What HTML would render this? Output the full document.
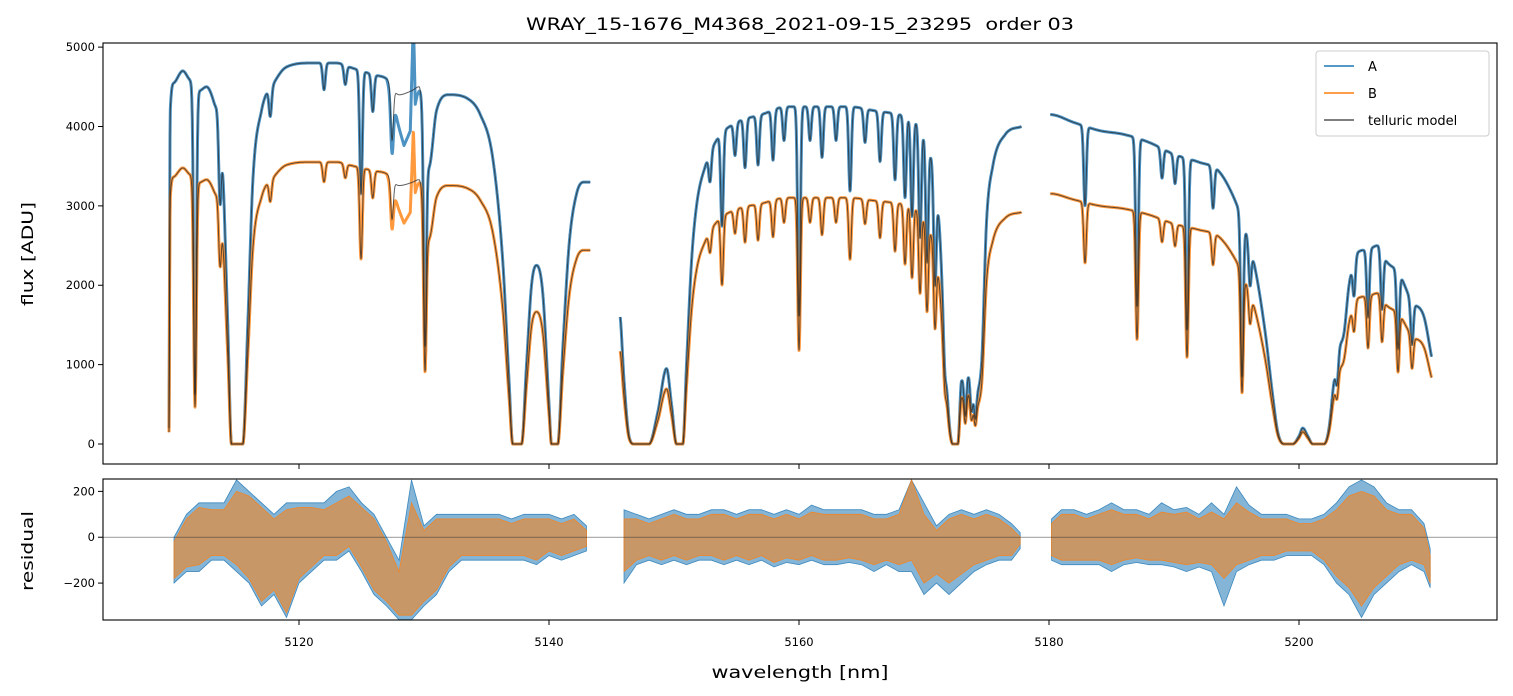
<!DOCTYPE html>
<html><head><meta charset="utf-8">
<style>
body{margin:0;background:#fff;}
svg{display:block;font-family:"DejaVu Sans","Liberation Sans",sans-serif;}
</style></head>
<body>
<svg id="chart" width="1513" height="696" viewBox="0 0 1513 696">
<text x="800" y="30" text-anchor="middle" font-size="17" textLength="548" lengthAdjust="spacingAndGlyphs" style="white-space:pre">WRAY_15-1676_M4368_2021-09-15_23295  order 03</text>
<g id="gtop"></g>
<g id="gbot"></g>
<text x="33" y="254" transform="rotate(-90 33 254)" text-anchor="middle" font-size="16" textLength="104" lengthAdjust="spacingAndGlyphs">flux [ADU]</text>
<text x="33" y="551" transform="rotate(-90 33 551)" text-anchor="middle" font-size="16" textLength="80" lengthAdjust="spacingAndGlyphs">residual</text>
<text x="800" y="678" text-anchor="middle" font-size="17" textLength="177" lengthAdjust="spacingAndGlyphs">wavelength [nm]</text>
<g>
<rect x="1316" y="51" width="173" height="85" rx="3" fill="#fff" fill-opacity="0.85" stroke="#ccc"/>
<line x1="1324" y1="66" x2="1354" y2="66" stroke="#1f77b4" stroke-width="1.5"/>
<text x="1368" y="71" font-size="13">A</text>
<line x1="1324" y1="93" x2="1354" y2="93" stroke="#ff7f0e" stroke-width="1.5"/>
<text x="1368" y="98" font-size="13">B</text>
<line x1="1324" y1="120" x2="1354" y2="120" stroke="#555" stroke-width="1.5"/>
<text x="1368" y="125" font-size="13">telluric model</text>
</g>
</svg>
<script>
// ---- data ----
const segments = [[5109.6,5143.3],[5145.7,5177.8],[5180.1,5210.6]];
const bRatio = [0.74,0.73,0.76];
const contWl = [5109.6,5109.7,5110.0,5110.7,5111.2,5112.0,5112.6,5113.2,5113.8,5114.3,5114.6,5115.5,5115.9,5116.3,5117.0,5118,5119,5121,5123,5124,5126,5127,5128,5129,5129.6,5130.4,5131,5132,5133.5,5134.5,5135.5,5136.3,5136.8,5137.1,5137.8,5138.2,5138.6,5139.0,5139.5,5140.0,5140.2,5140.7,5141.1,5141.6,5142.2,5142.8,5143.3,
5145.7,5146.0,5146.4,5146.8,5148,5148.7,5149.4,5149.8,5150.2,5150.7,5151.0,5151.4,5151.8,5152.5,5153.5,5155,5157,5159,5162,5164,5166,5168,5169,5170.0,5170.7,5171.2,5171.6,5172.0,5172.3,5172.7,5173.0,5173.5,5174.2,5174.6,5175,5175.5,5176.5,5177.8,
5180.1,5182,5184,5186,5188,5190,5192,5193.5,5194.5,5195.5,5196.5,5197.3,5197.9,5198.3,5198.8,5199.5,5200.0,5200.3,5200.7,5201.1,5202.0,5202.4,5202.8,5203.2,5203.6,5204,5204.6,5205.5,5206.3,5207,5208,5209,5210,5210.6];
const contA = [200,4200,4550,4700,4600,4450,4500,4300,3800,1500,0,0,1500,3300,4200,4550,4750,4800,4800,4750,4650,4600,4400,4450,4500,3500,4200,4400,4350,4150,3600,2300,800,0,0,1000,2000,2250,1900,500,0,0,1200,2500,3150,3300,3300,
1600,800,100,0,0,400,950,500,0,0,1000,2300,3000,3500,3850,4050,4150,4250,4250,4250,4200,4150,4100,3900,3500,2800,1500,300,0,0,800,900,700,1000,2800,3500,3900,4000,
4150,4050,3950,3900,3800,3650,3550,3450,3200,2800,2200,1400,600,150,0,0,100,200,100,0,0,200,800,1200,1400,2000,2400,2450,2500,2300,2150,1800,1600,1100];
const lineWl = [5111.68,5113.68,5117.7,5122.0,5123.7,5124.96,5125.9,5127.44,5130.08,
5152.88,5153.84,5154.88,5155.68,5156.72,5157.92,5158.8,5160.0,5160.88,5161.84,5162.96,5164.08,5165.28,5166.48,5167.68,5168.48,5169.04,5169.68,5170.24,5170.88,5171.68,5173.3,5173.8,5174.1,
5182.88,5187.04,5189.04,5190.08,5191.04,5193.12,5195.44,5196.08,5203.04,5204.4,5205.52,5206.64,5207.92,5209.04];
const lineDepth = [0.86,0.25,0.08,0.07,0.05,0.33,0.1,0.15,0.68,
0.1,0.3,0.1,0.15,0.15,0.15,0.1,0.62,0.1,0.15,0.1,0.25,0.1,0.15,0.2,0.25,0.3,0.35,0.4,0.4,0.3,0.6,0.5,0.55,
0.25,0.55,0.1,0.1,0.6,0.15,0.7,0.2,0.3,0.2,0.35,0.3,0.45,0.3];
const lineWidth = 0.15;
// observed-minus-model deviation (A units)
const devWl = [5127.0,5127.8,5128.4,5128.9,5129.15,5129.3,5129.45,5129.8];
const devA  = [0,-300,-650,-500,900,-200,-100,0];
const resWl = [5110,5111,5112,5113,5114,5115,5116,5117,5118,5119,5120,5121,5122,5123,5124,5125,5126,5127,5128,5129,5130,5131,5132,5133,5134,5135,5136,5137,5138,5139,5140,5141,5142,5143,
5146,5147,5148,5149,5150,5151,5152,5153,5154,5155,5156,5157,5158,5159,5160,5161,5162,5163,5164,5165,5166,5167,5168,5169,5170,5171,5172,5173,5174,5175,5176,5177,5177.7,
5180.2,5181,5182,5183,5184,5185,5186,5187,5188,5189,5190,5191,5192,5193,5194,5195,5196,5197,5198,5199,5200,5201,5202,5203,5204,5205,5206,5207,5208,5209,5210,5210.5];
const resAhi = [0,100,150,150,150,250,200,150,100,150,150,150,150,200,220,150,100,0,-100,250,50,100,100,100,100,100,100,80,100,100,100,80,100,50,
120,100,80,100,120,100,100,120,120,100,120,120,100,120,100,140,120,120,120,120,100,100,120,250,150,50,100,120,100,120,100,60,20,
80,120,120,100,120,150,120,120,100,150,120,130,100,150,100,220,140,100,100,100,80,80,100,150,220,250,220,150,120,120,60,-50];
const resAlo = [-200,-150,-150,-100,-100,-150,-200,-300,-250,-350,-200,-150,-100,-100,-60,-150,-250,-300,-360,-360,-300,-250,-150,-100,-100,-100,-100,-100,-100,-120,-80,-100,-80,-60,
-200,-120,-100,-120,-100,-120,-100,-100,-120,-100,-120,-100,-130,-110,-120,-100,-120,-120,-110,-120,-150,-120,-150,-150,-250,-200,-250,-200,-150,-120,-100,-100,-50,
-100,-120,-120,-120,-120,-150,-120,-110,-120,-120,-130,-150,-130,-150,-300,-150,-120,-100,-100,-80,-80,-80,-120,-200,-250,-350,-250,-200,-150,-120,-150,-220];
const resBhi = [-20,80,130,120,120,200,180,130,80,120,130,130,120,150,180,130,80,-20,-150,150,30,80,80,80,80,80,80,60,80,80,80,60,80,30,
80,80,60,80,100,80,80,100,100,80,100,100,80,100,80,110,100,100,100,100,80,80,100,250,100,30,80,100,80,100,80,40,0,
60,100,100,80,100,120,100,100,80,110,100,110,80,110,80,150,110,80,80,80,60,60,80,120,180,200,180,120,100,100,40,-80];
const resBlo = [-180,-130,-120,-80,-80,-120,-180,-280,-230,-330,-180,-130,-80,-80,-40,-130,-230,-280,-340,-340,-280,-230,-130,-80,-80,-80,-80,-80,-80,-100,-60,-80,-60,-40,
-150,-100,-80,-100,-80,-100,-80,-80,-100,-80,-100,-80,-110,-90,-100,-80,-100,-100,-90,-100,-120,-100,-120,-100,-200,-160,-200,-160,-120,-100,-80,-80,-30,
-80,-100,-100,-100,-100,-120,-100,-90,-100,-100,-110,-120,-110,-120,-180,-120,-100,-80,-80,-60,-60,-60,-100,-170,-220,-300,-220,-170,-120,-100,-120,-200];
const xTicks = [5120,5140,5160,5180,5200];
const yTicksTop = [0,1000,2000,3000,4000,5000];
const yTicksBot = [-200,0,200];

// ---- axes ----
const X0=103,X1=1497, W0=5104.32, W1=5215.84;
const TY0=43,TY1=464, F0=5052, F1=-252;
const BY0=479,BY1=620, R0=254, R1=-361;
const xs = w => X0+(w-W0)/(W1-W0)*(X1-X0);
const yt = v => TY0+(v-F0)/(F1-F0)*(TY1-TY0);
const yb = v => BY0+(v-R0)/(R1-R0)*(BY1-BY0);
const NS="http://www.w3.org/2000/svg";
function mk(parent,tag,attrs){const e=document.createElementNS(NS,tag);for(const k in attrs)e.setAttribute(k,attrs[k]);parent.appendChild(e);return e;}
function interp(xa,ya,x){if(x<=xa[0])return ya[0];if(x>=xa[xa.length-1])return ya[ya.length-1];let i=0;while(i<xa.length-2&&xa[i+1]<x)i++;const t=(x-xa[i])/(xa[i+1]-xa[i]);return ya[i]+t*(ya[i+1]-ya[i]);}
const contM=(function(){const n=contWl.length,d=[],m=[];for(let i=0;i<n-1;i++)d.push((contA[i+1]-contA[i])/(contWl[i+1]-contWl[i]));
  m[0]=d[0];m[n-1]=d[n-2];for(let i=1;i<n-1;i++){m[i]=(d[i-1]*d[i]<=0)?0:(d[i-1]+d[i])/2;}
  for(let i=0;i<n-1;i++){if(d[i]===0){m[i]=0;m[i+1]=0;continue;}const a=m[i]/d[i],b=m[i+1]/d[i],s=a*a+b*b;if(s>9){const t=3/Math.sqrt(s);m[i]=t*a*d[i];m[i+1]=t*b*d[i];}}return m;})();
function cont(w){let i=0;while(i<contWl.length-2&&contWl[i+1]<w)i++;const h=contWl[i+1]-contWl[i];let t=(w-contWl[i])/h;t=Math.max(0,Math.min(1,t));
  const t2=t*t,t3=t2*t;return (2*t3-3*t2+1)*contA[i]+(t3-2*t2+t)*h*contM[i]+(-2*t3+3*t2)*contA[i+1]+(t3-t2)*h*contM[i+1];}
function model(w){let c=Math.max(0,cont(w));for(let i=0;i<lineWl.length;i++){const d=(w-lineWl[i])/lineWidth;if(Math.abs(d)<5)c*=1-lineDepth[i]*Math.exp(-d*d);}return c;}

const gTop=document.getElementById('gtop'), gBot=document.getElementById('gbot');
const defs=mk(gTop,'defs',{});
const cpT=mk(defs,'clipPath',{id:'ct'}); mk(cpT,'rect',{x:103,y:43,width:1394,height:421});
const cpB=mk(defs,'clipPath',{id:'cb'}); mk(cpB,'rect',{x:103,y:479,width:1394,height:141});
const gt=mk(gTop,'g',{'clip-path':'url(#ct)'});
const gb=mk(gBot,'g',{'clip-path':'url(#cb)'});

const series=[{name:'A',col:'#1f77b4'},{name:'B',col:'#ff7f0e'}];
const modelPaths=[];
series.forEach(se=>{
  segments.forEach((sg,si)=>{
    let d='',dm='';
    const r = se.name==='A'?1:bRatio[si];
    for(let w=sg[0];w<=sg[1]+1e-9;w+=0.02){
      const m=model(w)*r;
      const o=m+interp(devWl,devA,w)*r;
      d+=(d?'L':'M')+xs(w).toFixed(1)+','+yt(o).toFixed(1);
      dm+=(dm?'L':'M')+xs(w).toFixed(1)+','+yt(m).toFixed(1);
    }
    const p=mk(gt,'path',{d:d,fill:'none',stroke:se.col,'stroke-width':3,'stroke-opacity':0.8,'stroke-linejoin':'round'});
    
    
    modelPaths.push(dm);
  });
});
modelPaths.forEach(d=>{
  const p=mk(gt,'path',{d:d,fill:'none',stroke:'#2a2a2a','stroke-width':1,'stroke-opacity':0.75});
  
  
});

[[resAhi,resAlo,'#1f77b4','a',0.55],[resBhi,resBlo,'#ff7f0e','b',0.55]].forEach(([hi,lo,col,nm,op])=>{
  segments.forEach((sg,si)=>{
    const idx=[];resWl.forEach((w,i)=>{if(w>=sg[0]-0.5&&w<=sg[1]+0.5)idx.push(i);});
    let d='';
    idx.forEach(i=>{d+=(d?'L':'M')+xs(Math.max(sg[0],Math.min(sg[1],resWl[i]))).toFixed(1)+','+yb(hi[i]).toFixed(1);});
    idx.slice().reverse().forEach(i=>{d+='L'+xs(Math.max(sg[0],Math.min(sg[1],resWl[i]))).toFixed(1)+','+yb(lo[i]).toFixed(1);});
    const p=mk(gb,'path',{d:d+'Z',fill:col,'fill-opacity':op,stroke:col,'stroke-width':0.8,'stroke-opacity':0.8});
    
    
  });
});
mk(gb,'line',{x1:X0,x2:X1,y1:yb(0),y2:yb(0),stroke:'#333','stroke-width':0.6,'stroke-opacity':0.8});

[[TY0,TY1,gTop],[BY0,BY1,gBot]].forEach(([a,b,g])=>{
  mk(g,'rect',{x:X0,y:a,width:X1-X0,height:b-a,fill:'none',stroke:'#000','stroke-width':1.1});
  xTicks.forEach(t=>mk(g,'line',{x1:xs(t),x2:xs(t),y1:b,y2:b+5,stroke:'#000'}));
});
xTicks.forEach(t=>{
  const e=mk(gBot,'text',{x:xs(t),y:646,'text-anchor':'middle','font-size':11.5});
  e.textContent=t;
  
  
});
yTicksTop.forEach(t=>{
  mk(gTop,'line',{x1:X0-5,x2:X0,y1:yt(t),y2:yt(t),stroke:'#000'});
  const e=mk(gTop,'text',{x:X0-8,y:yt(t)+4,'text-anchor':'end','font-size':11.5});
  e.textContent=t;
  
  
});
yTicksBot.forEach(t=>{
  mk(gBot,'line',{x1:X0-5,x2:X0,y1:yb(t),y2:yb(t),stroke:'#000'});
  const e=mk(gBot,'text',{x:X0-8,y:yb(t)+4,'text-anchor':'end','font-size':11.5});
  e.textContent=t===0?'0':(t<0?'\u2212'+(-t):t);
  
  
});
</script>
</body></html>
